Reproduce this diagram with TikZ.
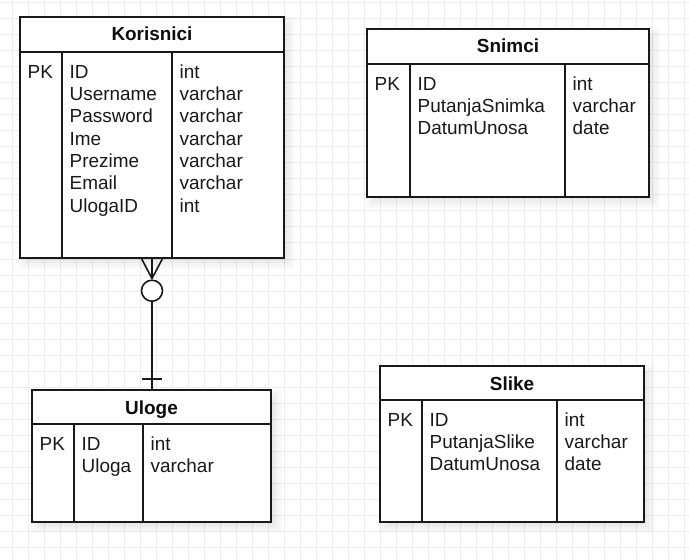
\documentclass[tikz,border=0pt]{standalone}
\usepackage{fontspec}
\setmainfont{Liberation Sans}
\usetikzlibrary{fit}
\tikzset{
  gridline/.style={draw=black!7, line width=1bp},
  tableline/.style={draw=black!90, line width=2bp},
  tablebox/.style={tableline, fill=white, inner sep=0pt},
  celltext/.style={anchor=base west, inner sep=0pt, text=black!90,
    font=\fontsize{19}{22.4}\selectfont},
  titletext/.style={anchor=base, inner sep=0pt, text=black!95,
    font=\fontsize{19}{22.4}\selectfont\bfseries},
  relline/.style={draw=black!90, line width=1.6bp},
}
% #1 name, #2 x1, #3 y1, #4 x2, #5 y2, #6 header line y, #7 col1 x, #8 col2 x, #9 title
\newcommand\ertable[9]{%
  \foreach \e in {-3,0,3,6}
    \fill[black, opacity=0.022] ({#2+5-\e},{#3+5-\e}) rectangle ({#4+5+\e},{#5+5+\e});
  \coordinate (#1-nw) at (#2,#3);
  \coordinate (#1-se) at (#4,#5);
  \node[tablebox, fit=(#1-nw)(#1-se)] (#1) {};
  \draw[tableline] (#2,#6) -- (#4,#6);
  \draw[tableline] (#7,#6) -- (#7,#5);
  \draw[tableline] (#8,#6) -- (#8,#5);
  \node[titletext] (#1-title) at ({(#2+#4)/2},{#3+24}) {#9};
  \node[celltext] (#1-pk) at ({#2+7.5},{#6+26.3}) {PK};
}
\newcommand\ercol[4]{%
  \node[celltext] (#1) at ({#2+7.5},{#3+26.3})
    {\renewcommand\arraystretch{1}\begin{tabular}[t]{@{}l@{}}#4\end{tabular}};
}
\begin{document}
\begin{tikzpicture}[x=1bp, y=-1bp]
\useasboundingbox (0,0) rectangle (689,560);
\fill[white] (0,0) rectangle (689,560);
\foreach \x in {12,28,...,684} \draw[gridline] (\x,0) -- (\x,560);
\foreach \y in {3,19,...,547} \draw[gridline] (0,\y) -- (689,\y);

% Korisnici
\ertable{kor}{20}{17}{284}{258}{52}{62}{172}{Korisnici}
\ercol{kor-names}{62}{52}{ID\\Username\\Password\\Ime\\Prezime\\Email\\UlogaID}
\ercol{kor-types}{172}{52}{int\\varchar\\varchar\\varchar\\varchar\\varchar\\int}

% Snimci
\ertable{sni}{367}{29}{649}{197}{64}{410}{565}{Snimci}
\ercol{sni-names}{410}{64}{ID\\PutanjaSnimka\\DatumUnosa}
\ercol{sni-types}{565}{64}{int\\varchar\\date}

% Uloge
\ertable{ulo}{32}{390}{271}{522}{424}{74}{143}{Uloge}
\ercol{ulo-names}{74}{424}{ID\\Uloga}
\ercol{ulo-types}{143}{424}{int\\varchar}

% Slike
\ertable{sli}{380}{366}{644}{522}{400}{422}{557}{Slike}
\ercol{sli-names}{422}{400}{ID\\PutanjaSlike\\DatumUnosa}
\ercol{sli-types}{557}{400}{int\\varchar\\date}

% relationship Korisnici (many, optional) -- Uloge (one)
\coordinate (rx) at (152,0);
\coordinate (tip) at (152,278.5);
\node[relline, circle, inner sep=0pt, minimum size=21bp, fill=white] (ring) at (152,290.7) {};
\draw[relline] (kor.south -| rx) -- (ring.north);
\draw[relline] (kor.south -| 141.7,0) -- (tip);
\draw[relline] (kor.south -| 162.3,0) -- (tip);
\draw[relline] (ring.south) -- (ulo.north -| rx);
\coordinate (barl) at (141.7,379);
\coordinate (barr) at (162.3,379);
\draw[relline] (barl) -- (barr);
\end{tikzpicture}
\end{document}
